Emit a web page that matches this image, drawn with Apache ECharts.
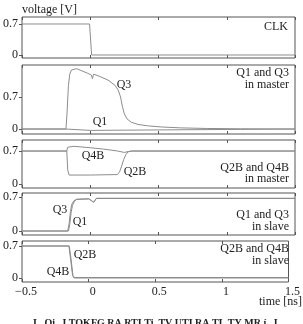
<!DOCTYPE html>
<html>
<head>
<meta charset="utf-8">
<script src="https://cdn.jsdelivr.net/npm/echarts@6/dist/echarts.min.js"></script>
<style>
html, body { margin: 0; padding: 0; background: #fff; }
#main { width: 303px; height: 324px; }
</style>
</head>
<body>
<div id="main"></div>
<script>
// time axis [ns]
var xTicks = [-0.5, 0, 0.5, 1, 1.5];
var yTicks = [0, 0.7];

// CLK
var clkT = [-0.5, -0.005, 0.01, 1.5];
var clkV = [0.7, 0.7, 0.0, 0.0];

// Q1 and Q3 in master
var q3mT = [-0.5, -0.178, -0.170, -0.160, -0.150, -0.138, -0.124, -0.10, -0.06, -0.02, 0.008, 0.016, 0.024, 0.07, 0.13, 0.18, 0.205, 0.222, 0.235, 0.25, 0.27, 0.30, 0.35, 0.42, 0.52, 0.66, 0.85, 1.1, 1.5];
var q3mV = [0, 0, 0.35, 0.95, 1.20, 1.29, 1.33, 1.32, 1.27, 1.22, 1.18, 1.10, 1.20, 1.15, 1.07, 0.96, 0.85, 0.70, 0.50, 0.33, 0.22, 0.15, 0.10, 0.07, 0.045, 0.025, 0.012, 0.005, 0.0];
var q1mT = [-0.5, -0.18, -0.17, 0.0, 0.012, 1.5];
var q1mV = [0, 0, -0.03, -0.03, 0.0, 0.0];

// Q2B and Q4B in master
var q4bmT = [-0.5, -0.172, -0.165, -0.155, -0.12, 0.0, 0.1, 0.2, 0.25, 0.28, 0.31, 1.5];
var q4bmV = [0.7, 0.7, 0.78, 0.80, 0.80, 0.77, 0.74, 0.70, 0.67, 0.69, 0.70, 0.70];
var q2bmT = [-0.5, -0.172, -0.165, -0.155, 0.0, 0.2, 0.215, 0.23, 0.245, 0.26, 0.275, 0.3, 1.5];
var q2bmV = [0.7, 0.7, 0.3, 0.19, 0.19, 0.20, 0.26, 0.38, 0.52, 0.62, 0.68, 0.70, 0.70];

// Q1 and Q3 in slave
var q3sT = [-0.5, -0.165, -0.155, -0.145, -0.135, -0.12, -0.1, -0.01, 0.01, 0.025, 0.045, 1.5];
var q3sV = [0, 0, 0.15, 0.40, 0.55, 0.62, 0.65, 0.66, 0.62, 0.59, 0.67, 0.67];
var q1sT = [-0.5, -0.16, -0.15, -0.14, -0.13, -0.115, -0.1, -0.01, 0.01, 0.025, 0.045, 1.5];
var q1sV = [0, 0, 0.13, 0.38, 0.53, 0.61, 0.65, 0.66, 0.62, 0.59, 0.67, 0.67];

// Q2B and Q4B in slave
var q2bsT = [-0.5, -0.148, -0.135, -0.12, -0.11, 1.5];
var q2bsV = [0.7, 0.7, 0.4, 0.05, 0.0, 0.0];
var q4bsT = [-0.5, -0.145, -0.132, -0.118, -0.108, 1.5];
var q4bsV = [0.7, 0.7, 0.42, 0.06, 0.01, 0.01];

var yMin = [-0.068, -0.109, -0.085, -0.082, -0.088];
var yMax = [0.858, 1.40, 0.934, 0.78, 0.81];
var gridTop = [17, 65, 140, 193, 241];
var gridHeight = [41, 69, 48, 42, 41];

var FONT = 'Liberation Serif';
var frameColor = '#555';
var lineColor = '#8c8c8c';

function zip(t, v) {
    var out = [];
    for (var i = 0; i < t.length; i++) out.push([t[i], v[i]]);
    return out;
}

var grids = [], xAxes = [], yAxes = [];
for (var i = 0; i < 5; i++) {
    grids.push({
        left: 22, right: 8, top: gridTop[i], height: gridHeight[i],
        show: true, borderColor: frameColor, borderWidth: 1,
        backgroundColor: 'rgba(0,0,0,0)'
    });
    xAxes.push({
        gridIndex: i, type: 'value', position: 'bottom',
        min: xTicks[0], max: xTicks[xTicks.length - 1], interval: 0.5,
        axisLine: { show: false, onZero: false }, splitLine: { show: false },
        axisTick: { show: true, inside: true, length: 3, lineStyle: { color: frameColor } },
        axisLabel: {
            show: i === 4, showMinLabel: true, showMaxLabel: true,
            margin: 4, padding: [0, 0, 0, 8],
            fontFamily: FONT, fontSize: 12, color: '#222',
            formatter: function (v) { return v < 0 ? '\u2212' + Math.abs(v) : String(v); }
        }
    });
    xAxes.push({
        gridIndex: i, type: 'value', position: 'top',
        min: xTicks[0], max: xTicks[xTicks.length - 1], interval: 0.5,
        axisLine: { show: false, onZero: false }, splitLine: { show: false },
        axisTick: { show: true, inside: true, length: 3, lineStyle: { color: frameColor } },
        axisLabel: { show: false }
    });
    yAxes.push({
        gridIndex: i, type: 'value', position: 'left', min: yMin[i], max: yMax[i],
        axisLine: { show: false, onZero: false }, splitLine: { show: false },
        axisTick: { show: true, length: 3, customValues: yTicks, lineStyle: { color: frameColor } },
        axisLabel: {
            customValues: yTicks, margin: 4,
            fontFamily: FONT, fontSize: 12, color: '#222',
            formatter: function (v) { return String(v); }
        }
    });
}

function line(name, idx, t, v) {
    return {
        name: name, type: 'line', xAxisIndex: idx * 2, yAxisIndex: idx,
        data: zip(t, v), showSymbol: false, animation: false,
        lineStyle: { color: lineColor, width: 1 }
    };
}

var series = [
    line('CLK', 0, clkT, clkV),
    line('Q3 master', 1, q3mT, q3mV),
    line('Q1 master', 1, q1mT, q1mV),
    line('Q4B master', 2, q4bmT, q4bmV),
    line('Q2B master', 2, q2bmT, q2bmV),
    line('Q3 slave', 3, q3sT, q3sV),
    line('Q1 slave', 3, q1sT, q1sV),
    line('Q2B slave', 4, q2bsT, q2bsV),
    line('Q4B slave', 4, q4bsT, q4bsV)
];

function txt(s, x, y, align) {
    return {
        type: 'text', silent: true,
        style: {
            text: s, x: x, y: y, align: align || 'center', verticalAlign: 'middle',
            font: '12px "' + FONT + '"', fill: '#222'
        }
    };
}

var graphics = [
    txt('voltage [V]', 22, 10, 'left'),
    txt('time [ns]', 302, 302, 'right'),
    txt('CLK', 288, 27, 'right'),
    txt('Q1 and Q3', 289, 73, 'right'),
    txt('in master', 289, 85, 'right'),
    txt('Q3', 124, 85),
    txt('Q1', 100, 122),
    txt('Q4B', 93, 156),
    txt('Q2B', 135, 172),
    txt('Q2B and Q4B', 289, 168, 'right'),
    txt('in master', 289, 179, 'right'),
    txt('Q3', 60, 210),
    txt('Q1', 80, 222),
    txt('Q1 and Q3', 289, 215, 'right'),
    txt('in slave', 289, 227, 'right'),
    txt('Q2B', 85, 255),
    txt('Q4B', 58, 272),
    txt('Q2B and Q4B', 289, 249, 'right'),
    txt('in slave', 289, 261, 'right'),
    {
        type: 'text', silent: true,
        style: {
            text: 'I   Oi   I TOKFG RA RTI Ti  TV UTI RA TL TY MR í   I',
            x: 33, y: 318, align: 'left', verticalAlign: 'top',
            font: 'bold 10px "' + FONT + '"', fill: '#222'
        }
    }
];

var myChart = echarts.init(document.getElementById('main'), null, { renderer: 'canvas' });
myChart.setOption({
    animation: false,
    grid: grids,
    xAxis: xAxes,
    yAxis: yAxes,
    series: series,
    graphic: graphics
});
</script>
</body>
</html>
